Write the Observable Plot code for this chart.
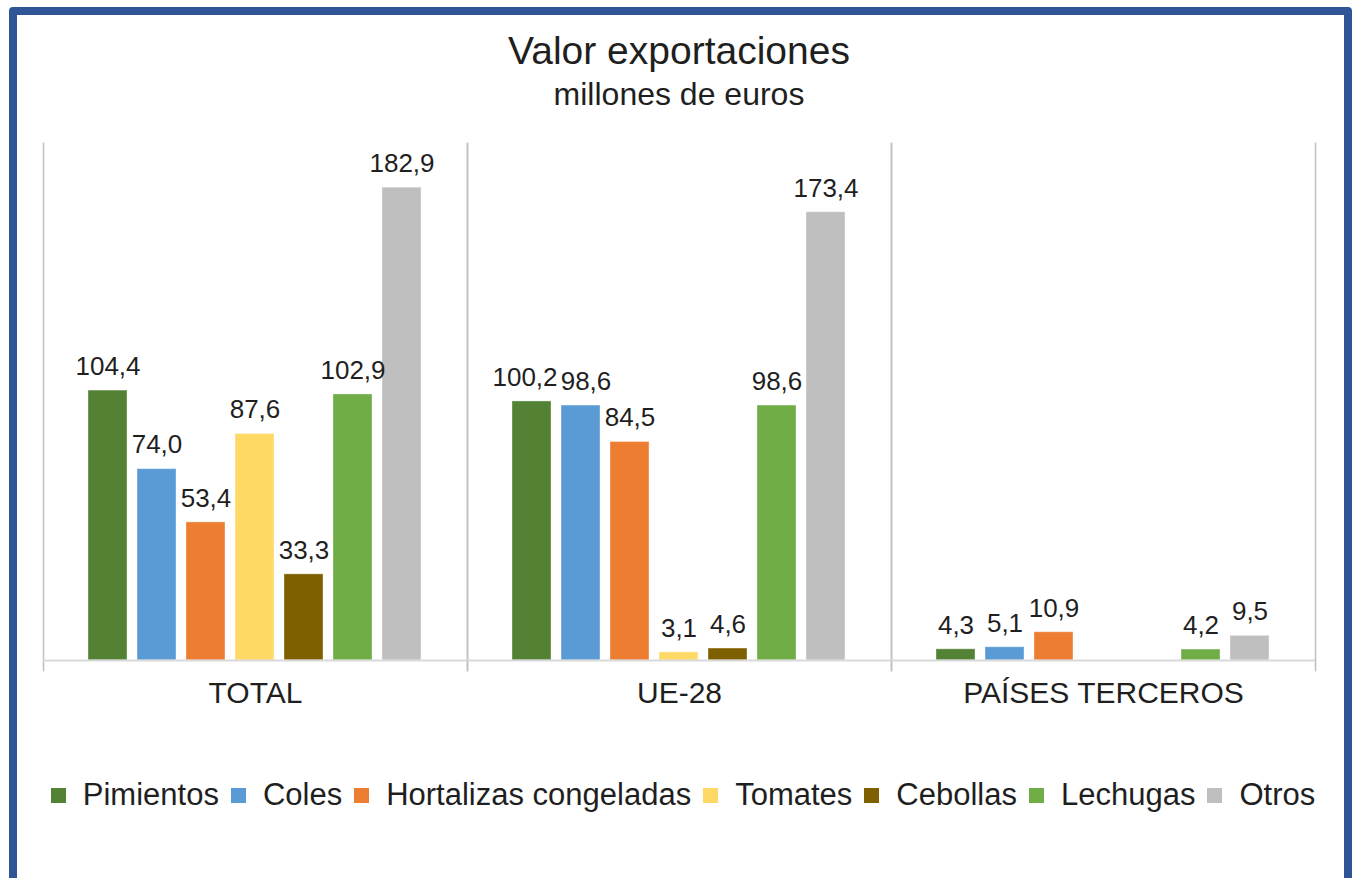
<!DOCTYPE html>
<html>
<head>
<meta charset="utf-8">
<script src="https://cdn.jsdelivr.net/npm/d3@7"></script>
<script src="https://cdn.jsdelivr.net/npm/@observablehq/plot@0.6"></script>
<style>
  html, body { margin: 0; padding: 0; background: #fff; }
  body { width: 1354px; height: 878px; position: relative; overflow: hidden; font-family: "Liberation Sans", Arial, sans-serif; color: #1f1f1f; }
  #frame { position: absolute; left: 9px; top: 7px; width: 1327px; height: 900px; border: 8px solid #2F5597; border-radius: 4px; }
  #title { position: absolute; left: 0; width: 1358px; top: 30px; text-align: center; font-size: 39px; line-height: 42px; }
  #subtitle { position: absolute; left: 0; width: 1358px; top: 76px; text-align: center; font-size: 32px; line-height: 36px; }
  #chart { position: absolute; left: 0; top: 120px; }
  #legend { position: absolute; left: 0; width: 1366px; top: 777px; display: flex; justify-content: center; align-items: center; font-size: 31px; line-height: 36px; }
  .item { display: flex; align-items: center; margin: 0 6px; }
  .sw { width: 15px; height: 15px; margin-right: 17px; }
</style>
</head>
<body>
<div id="frame"></div>
<div id="title">Valor exportaciones</div>
<div id="subtitle">millones de euros</div>
<div id="chart"></div>
<div id="legend"></div>
<script>
const groups = ["TOTAL", "UE-28", "PAÍSES TERCEROS"];
const categories = ["Pimientos", "Coles", "Hortalizas congeladas", "Tomates", "Cebollas", "Lechugas", "Otros"];
const colors = ["#548235", "#5B9BD5", "#ED7D31", "#FFD966", "#7F6000", "#70AD47", "#BFBFBF"];
const totalValues = [104.4, 74.0, 53.4, 87.6, 33.3, 102.9, 182.9];
const ue28Values = [100.2, 98.6, 84.5, 3.1, 4.6, 98.6, 173.4];
const tercerosValues = [4.3, 5.1, 10.9, null, null, 4.2, 9.5];

const series = [totalValues, ue28Values, tercerosValues];

// layout of the plot
const W = 1354, H = 610, mL = 42, mR = 39, mT = 23, mB = 60;
const yDomain = [-3.9, 200];
const labelFont = 26;
const pxPerUnit = (H - mT - mB) / (yDomain[1] - yDomain[0]);
const facetW = (W - mL - mR) / groups.length;
const pInner = 0.2, pOuter = 0.86;
const step = facetW / (categories.length - pInner + 2 * pOuter);
const textWidth = s => [...s].reduce((a, ch) => a + (ch === "," ? 0.278 : 0.556), 0) * labelFont;

const rows = [];
groups.forEach((g, gi) => {
  const groupRows = [];
  categories.forEach((c, ci) => {
    const v = series[gi][ci];
    if (v != null) groupRows.push({group: g, category: c, idx: ci, value: v, label: v.toFixed(1).replace(".", ","), dx: 0});
  });
  // push neighbouring value labels apart when they would collide
  for (let i = 0; i < groupRows.length - 1; i++) {
    const a = groupRows[i], b = groupRows[i + 1];
    if (b.idx - a.idx !== 1) continue;
    if (Math.abs(a.value - b.value) * pxPerUnit > labelFont) continue;
    const overlap = (textWidth(a.label) + textWidth(b.label)) / 2 + 4 - step;
    if (overlap > 0) { a.dx -= Math.round(overlap * 0.6); b.dx += Math.round(overlap * 0.4); }
  }
  rows.push(...groupRows);
});

// one text mark per horizontal nudge
const dxValues = [...new Set(rows.map(d => d.dx))];
const labelMarks = dxValues.map(dx =>
  Plot.text(rows.filter(d => d.dx === dx), {fx: "group", x: "category", y: "value", text: "label", dx, dy: -24, fill: "#1f1f1f", fontSize: labelFont})
);

const chart = Plot.plot({
  width: W,
  height: H,
  marginLeft: mL,
  marginRight: mR,
  marginTop: mT,
  marginBottom: mB,
  style: {fontFamily: "'Liberation Sans', Arial, sans-serif", fontSize: "26px", color: "#1f1f1f", background: "transparent"},
  fx: {domain: groups, padding: 0, label: null},
  x: {domain: categories, paddingInner: pInner, paddingOuter: pOuter, axis: null},
  y: {domain: yDomain, axis: null},
  color: {domain: categories, range: colors},
  marks: [
    Plot.frame({anchor: "left", stroke: "#BFBFBF", strokeWidth: 1.5}),
    Plot.frame({anchor: "right", stroke: "#BFBFBF", strokeWidth: 1.5}),
    Plot.barY(rows, {fx: "group", x: "category", y: "value", fill: "category", stroke: "#ffffff", strokeOpacity: 0.35, strokeWidth: 1}),
    Plot.ruleY([0], {stroke: "#D9D9D9", strokeWidth: 2}),
    ...labelMarks,
    Plot.axisFx({anchor: "bottom", tickSize: 0, tickPadding: 11, fontSize: 30, label: null, fill: "#1f1f1f"})
  ]
});
document.getElementById("chart").appendChild(chart);

const legend = document.getElementById("legend");
categories.forEach((c, i) => {
  const item = document.createElement("div");
  item.className = "item";
  const sw = document.createElement("span");
  sw.className = "sw";
  sw.style.background = colors[i];
  const t = document.createElement("span");
  t.textContent = c;
  item.appendChild(sw);
  item.appendChild(t);
  legend.appendChild(item);
});
</script>
</body>
</html>
